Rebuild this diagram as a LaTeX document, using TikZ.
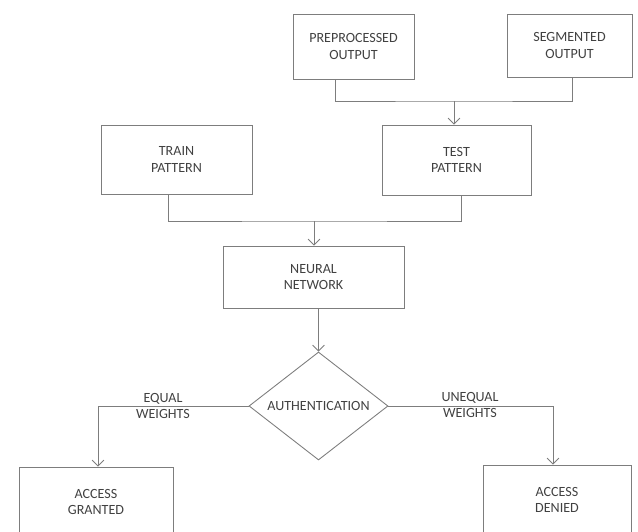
\documentclass[tikz,border=0pt]{standalone}
\usepackage{fontspec}
\setmainfont{Carlito}
\usepackage{xcolor}
\usetikzlibrary{arrows.meta,shapes.geometric}

\definecolor{linegray}{RGB}{125,125,125}
\definecolor{textgray}{RGB}{65,65,65}

\begin{document}
\begin{tikzpicture}[x=0.03cm,y=-0.03cm]
\tikzset{every node/.style={text=textgray,font=\fontsize{12}{13.8}\selectfont,align=center}}
\tikzset{box/.style={draw=linegray,line width=0.75pt,rectangle,inner sep=0pt}}
\tikzset{check/.style={draw=linegray,line width=0.75pt,diamond,aspect=1.29,inner sep=0pt,minimum width=4.17cm,minimum height=3.24cm}}
\tikzset{link/.style={draw=linegray,line width=0.75pt}}
\tikzset{arr/.style={link,-{Straight Barb[length=5pt,width=10pt]}}}

\useasboundingbox (0,0) rectangle (638,532);
\clip (0,0) rectangle (638,532);

% input boxes
\node[box,minimum width=3.63cm,minimum height=1.95cm] (pre) at (353.5,46.5) {PREPROCESSED\\OUTPUT};
\node[box,minimum width=3.75cm,minimum height=1.89cm] (seg) at (569.5,45.5) {SEGMENTED\\OUTPUT};

% patterns
\node[box,minimum width=4.53cm,minimum height=2.07cm] (train) at (176.5,159.5) {TRAIN\\PATTERN};
\node[box,minimum width=4.47cm,minimum height=2.10cm] (test) at (456.5,160) {TEST\\PATTERN};

% network and decision
\node[box,minimum width=5.43cm,minimum height=1.86cm] (nn) at (313.5,277) {NEURAL\\NETWORK};
\node[check] (auth) at (318.5,406) {AUTHENTICATION};

% results
\node[box,minimum width=4.62cm,minimum height=2.10cm] (granted) at (96,502) {ACCESS\\GRANTED};
\node[box,minimum width=4.44cm,minimum height=2.10cm] (denied) at (557,500) {ACCESS\\DENIED};

% edge labels
\node (eqlab) at (163,406) {EQUAL\\WEIGHTS};
\node (uneqlab) at (470,405) {UNEQUAL\\WEIGHTS};

% connectors
\coordinate (j1) at (454,101);
\coordinate (j2) at (314,221);
\draw[link] ([xshift=-0.53cm]pre.south) |- (j1) -| ([xshift=0.1cm]seg.south);
\draw[arr] (j1) -- (j1 |- test.north);
\draw[link] ([xshift=-0.23cm]train.south) |- (j2) -| ([xshift=0.14cm]test.south);
\draw[arr] (j2) -- (j2 |- nn.north);
\draw[arr] (auth.north |- nn.south) -- (auth.north);
\draw[arr] (auth.west) -| ([xshift=0.06cm]granted.north);
\draw[arr] (auth.east) -| ([xshift=-0.12cm]denied.north);

\end{tikzpicture}
\end{document}
